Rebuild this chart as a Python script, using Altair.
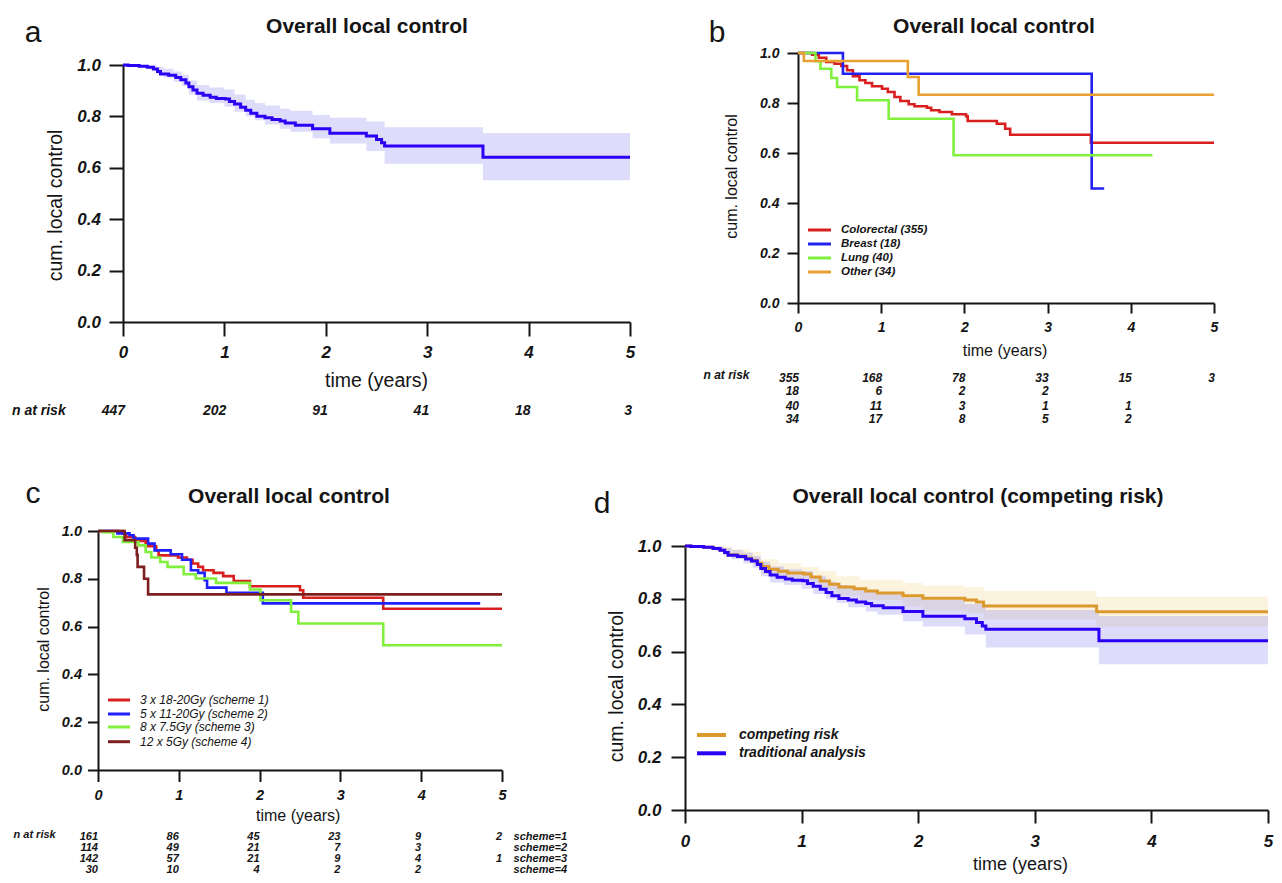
import altair as alt
import pandas as pd

FONT = "Liberation Sans"
INK = "#141414"

# ---------------- data ----------------
TICKS_X = [0, 1, 2, 3, 4, 5]
TICKS_Y = [0.0, 0.2, 0.4, 0.6, 0.8, 1.0]
RISK_T = [0, 1, 2, 3, 4, 5]

# traditional Kaplan-Meier (panel a, and blue curve of panel d)
km_t = [0, 0.05, 0.16, 0.24, 0.30, 0.34, 0.37, 0.45, 0.52, 0.57, 0.62, 0.65, 0.69, 0.73,
        0.79, 0.86, 0.92, 1.01, 1.05, 1.10, 1.16, 1.21, 1.26, 1.32, 1.40, 1.47, 1.55,
        1.60, 1.70, 1.87, 2.04, 2.40, 2.50, 2.55, 2.58, 3.55, 5.0]
km_v = [1.0, 0.998, 0.995, 0.991, 0.984, 0.975, 0.965, 0.960, 0.951, 0.943, 0.930, 0.915,
        0.903, 0.890, 0.882, 0.875, 0.870, 0.868, 0.858, 0.848, 0.836, 0.824, 0.812, 0.801,
        0.795, 0.788, 0.782, 0.774, 0.766, 0.752, 0.734, 0.724, 0.710, 0.697, 0.685, 0.641, 0.641]
km_ci_t = [0, 0.10, 0.25, 0.33, 0.40, 0.50, 0.58, 0.65, 0.73, 0.85, 1.00, 1.10, 1.21, 1.30,
           1.40, 1.55, 1.65, 1.87, 2.04, 2.40, 2.58, 3.55, 5.0]
km_ci_hi = [1.0, 1.0, 0.999, 0.992, 0.985, 0.975, 0.962, 0.940, 0.922, 0.912, 0.905, 0.885,
            0.865, 0.852, 0.842, 0.830, 0.822, 0.805, 0.795, 0.780, 0.758, 0.735, 0.735]
km_ci_lo = [1.0, 0.993, 0.983, 0.965, 0.950, 0.935, 0.918, 0.885, 0.862, 0.852, 0.838, 0.818,
            0.800, 0.785, 0.768, 0.752, 0.740, 0.715, 0.695, 0.665, 0.616, 0.552, 0.552]

# competing risk (panel d, orange)
cr_t = [0, 0.05, 0.16, 0.24, 0.30, 0.34, 0.37, 0.45, 0.52, 0.57, 0.62, 0.66, 0.72, 0.80,
        0.88, 1.02, 1.08, 1.16, 1.24, 1.32, 1.45, 1.55, 1.65, 1.87, 2.04, 2.40, 2.50, 2.56, 3.53, 5.0]
cr_v = [1.0, 0.998, 0.995, 0.991, 0.984, 0.976, 0.967, 0.962, 0.954, 0.946, 0.935, 0.922,
        0.912, 0.904, 0.898, 0.894, 0.883, 0.867, 0.855, 0.845, 0.838, 0.830, 0.822, 0.812,
        0.802, 0.795, 0.788, 0.773, 0.751, 0.751]
cr_ci_t = [0, 0.25, 0.40, 0.55, 0.65, 0.80, 1.00, 1.15, 1.30, 1.50, 1.87, 2.04, 2.40, 2.56, 3.53, 5.0]
cr_ci_hi = [1.0, 0.999, 0.988, 0.978, 0.950, 0.935, 0.920, 0.905, 0.885, 0.872, 0.860, 0.850,
            0.845, 0.830, 0.808, 0.808]
cr_ci_lo = [1.0, 0.984, 0.952, 0.932, 0.895, 0.875, 0.862, 0.835, 0.812, 0.795, 0.770, 0.755,
            0.745, 0.722, 0.695, 0.695]

# panel b: by primary tumour
colo_t = [0, 0.17, 0.25, 0.34, 0.44, 0.52, 0.59, 0.66, 0.74, 0.81, 0.89, 1.01, 1.08, 1.16,
          1.23, 1.33, 1.40, 1.55, 1.60, 1.70, 1.85, 2.02, 2.04, 2.39, 2.49, 2.55, 3.52, 5.0]
colo_v = [1.0, 0.993, 0.981, 0.964, 0.957, 0.948, 0.931, 0.907, 0.891, 0.880, 0.867, 0.857,
          0.844, 0.824, 0.808, 0.795, 0.787, 0.781, 0.771, 0.764, 0.755, 0.747, 0.728, 0.717,
          0.697, 0.673, 0.641, 0.641]
breast_t = [0, 0.54, 3.53, 3.68]
breast_v = [1.0, 0.917, 0.458, 0.458]
lung_t = [0, 0.21, 0.27, 0.40, 0.47, 0.71, 1.09, 1.87, 4.26]
lung_v = [1.0, 0.967, 0.937, 0.900, 0.864, 0.811, 0.737, 0.591, 0.591]
other_t = [0, 0.07, 1.32, 1.45, 5.0]
other_v = [1.0, 0.968, 0.904, 0.833, 0.833]

# panel c: by fractionation scheme
s1_t = [0, 0.31, 0.35, 0.46, 0.59, 0.72, 0.75, 0.99, 1.10, 1.17, 1.24, 1.30, 1.43, 1.55,
        1.68, 1.88, 2.50, 2.54, 3.53, 5.0]
s1_v = [1.0, 0.989, 0.975, 0.958, 0.936, 0.919, 0.898, 0.889, 0.880, 0.864, 0.850, 0.836,
        0.825, 0.811, 0.791, 0.769, 0.752, 0.721, 0.675, 0.675]
s2_t = [0, 0.24, 0.39, 0.44, 0.62, 0.70, 0.90, 1.04, 1.15, 1.24, 1.32, 1.35, 1.59, 2.04, 4.73]
s2_v = [1.0, 0.990, 0.982, 0.968, 0.947, 0.919, 0.903, 0.880, 0.836, 0.825, 0.794, 0.763,
        0.741, 0.697, 0.697]
s3_t = [0, 0.06, 0.19, 0.31, 0.50, 0.59, 0.66, 0.77, 0.86, 1.06, 1.21, 1.46, 1.88, 2.01,
        2.39, 2.48, 3.53, 5.0]
s3_v = [1.0, 0.995, 0.975, 0.954, 0.940, 0.912, 0.889, 0.870, 0.850, 0.819, 0.801, 0.783,
        0.755, 0.710, 0.662, 0.613, 0.522, 0.522]
s4_t = [0, 0.33, 0.46, 0.48, 0.49, 0.57, 0.62, 5.0]
s4_v = [1.0, 0.962, 0.930, 0.900, 0.850, 0.800, 0.735, 0.735]

# numbers at risk
risk_a = [447, 202, 91, 41, 18, 3]
risk_b = [[355, 168, 78, 33, 15, 3], [18, 6, 2, 2], [40, 11, 3, 1, 1], [34, 17, 8, 5, 2]]
risk_c = [[161, 86, 45, 23, 9, 2], [114, 49, 21, 7, 3], [142, 57, 21, 9, 4, 1], [30, 10, 4, 2, 2]]
scheme_tags = ["scheme=1", "scheme=2", "scheme=3", "scheme=4"]

legend_b = ["Colorectal (355)", "Breast (18)", "Lung (40)", "Other (34)"]
legend_c = ["3 x 18-20Gy (scheme 1)", "5 x 11-20Gy (scheme 2)", "8 x 7.5Gy (scheme 3)", "12 x 5Gy (scheme 4)"]
legend_d = ["competing risk", "traditional analysis"]

BLUE = "#2b00f5"
BLUE_B = "#2222f0"
RED = "#d81e1e"
GREEN = "#80f03c"
ORANGE_B = "#e8a030"
ORANGE_D = "#dc9a2e"
BROWN = "#7b1f1f"
BAND_BLUE = "#dddcfb"
BAND_BLUE_ALPHA = "#8e8af2"
BAND_ORANGE = "#fbf3de"

# page origin of each panel's view (layout grid)
ORIG = {"a": (98, 53), "b": (685, 53), "c": (98, 322), "d": (685, 322)}


class Panel:
    def __init__(self, key, width, height, xr, yr, yoff, lab_fs, xtick, xpad, ytick, ypad,
                 tfs, ytitle_xy, xtitle_xy, xtitle_fs=None):
        self.key = key
        self.ox, self.oy = ORIG[key]
        self.width, self.height = width, height
        self.layers = []
        self.xs = alt.Scale(domain=[0, 5], range=xr, nice=False, zero=False)
        self.ys = alt.Scale(domain=[0, 1], range=yr, nice=False, zero=False)
        common = dict(grid=False, domainColor=INK, domainWidth=2, tickColor=INK, tickWidth=2,
                      labelFont=FONT, labelFontSize=lab_fs, labelFontStyle="italic",
                      labelFontWeight="bold", labelColor=INK, labelOverlap=False,
                      titleFont=FONT, titleFontWeight="normal",
                      titleColor=INK, titleAlign="center", titleBaseline="middle")
        self.xa = alt.Axis(values=TICKS_X, format="d", title="time (years)", tickSize=xtick,
                           labelPadding=xpad, labelFlush=False, titleAngle=0,
                           titleFontSize=xtitle_fs or tfs,
                           titleX=xtitle_xy[0] - self.ox,
                           titleY=xtitle_xy[1] - (self.oy + height), **common)
        axis_x = self.ox - yoff
        self.ya = alt.Axis(values=TICKS_Y, format=".1f", title="cum. local control",
                           tickSize=ytick, labelPadding=ypad, offset=yoff, titleAngle=270,
                           titleFontSize=tfs,
                           titleX=ytitle_xy[0] - axis_x, titleY=ytitle_xy[1] - self.oy, **common)

    def X(self):
        return alt.X("t:Q", scale=self.xs, axis=self.xa)

    def Y(self, f):
        return alt.Y(f, scale=self.ys, axis=self.ya)

    def band(self, t, hi, lo, color, opacity=1.0):
        df = pd.DataFrame({"t": t, "hi": hi, "lo": lo})
        self.layers.append(alt.Chart(df).mark_area(interpolate="step-after", color=color,
                                                   opacity=opacity)
                           .encode(x=self.X(), y=self.Y("hi:Q"), y2=alt.Y2("lo:Q")))

    def line(self, t, v, color, w):
        df = pd.DataFrame({"t": t, "v": v})
        self.layers.append(alt.Chart(df).mark_line(interpolate="step-after", color=color,
                                                   strokeWidth=w)
                           .encode(x=self.X(), y=self.Y("v:Q")))

    def text(self, s, px, py, fs, weight="normal", style="normal", align="center",
             baseline="alphabetic"):
        df = pd.DataFrame({"s": [s]})
        self.layers.append(alt.Chart(df).mark_text(font=FONT, fontSize=fs, fontWeight=weight,
                                                   fontStyle=style, align=align,
                                                   baseline=baseline, color=INK)
                           .encode(text="s:N", x=alt.value(px - self.ox),
                                   y=alt.value(py - self.oy)))

    def risk(self, counts, py, fs, dx):
        df = pd.DataFrame({"t": RISK_T[:len(counts)], "n": [str(c) for c in counts]})
        self.layers.append(alt.Chart(df).mark_text(font=FONT, fontSize=fs, fontWeight="bold",
                                                   fontStyle="italic", align="right",
                                                   baseline="middle", dx=dx, color=INK)
                           .encode(x=self.X(), y=alt.value(py - self.oy), text="n:N"))

    def legend(self, label, color, x1, x2, py, w, tx, fs, weight, style):
        df = pd.DataFrame({"s": [label]})
        self.layers.append(alt.Chart(df).mark_rule(color=color, strokeWidth=w)
                           .encode(x=alt.value(x1 - self.ox), x2=alt.value(x2 - self.ox),
                                   y=alt.value(py - self.oy)))
        self.text(label, tx, py, fs, weight, style, align="left", baseline="middle")

    def chart(self):
        return alt.layer(*self.layers).properties(width=self.width, height=self.height)


# ---------------- panel a ----------------
pa = Panel("a", 587, 269, [25, 532], [269, 12], -25, 17, 14, 8, 14, 8.5, 19.5,
           (55, 205), (376, 380))
pa.band(km_ci_t, km_ci_hi, km_ci_lo, BAND_BLUE)
pa.line(km_t, km_v, BLUE, 3)
pa.text("a", 33, 41.7, 30)
pa.text("Overall local control", 367, 33.3, 21, weight="bold")
pa.text("n at risk", 12, 410.7, 14, weight="bold", style="italic", align="left", baseline="middle")
pa.risk(risk_a, 410.7, 14, 2)

# ---------------- panel b ----------------
pb = Panel("b", 587, 250, [113, 529], [250, 0], -113, 14, 10, 7.5, 11, 8, 16,
           (731, 176), (1004.5, 350.7))
b_colors = [RED, BLUE_B, GREEN, ORANGE_B]
for (t, v), col in zip([(colo_t, colo_v), (breast_t, breast_v), (lung_t, lung_v),
                        (other_t, other_v)], b_colors):
    pb.line(t, v, col, 2.6)
pb.text("b", 717, 42, 30)
pb.text("Overall local control", 994, 33.3, 21, weight="bold")
for lab, col, yy in zip(legend_b, b_colors, [230, 244, 258, 272]):
    pb.legend(lab, col, 808, 831, yy, 3, 841, 11.5, "bold", "italic")
pb.text("n at risk", 703.5, 375, 12, weight="bold", style="italic", align="left", baseline="middle")
for counts, yy in zip(risk_b, [378, 391.3, 405.7, 419.3]):
    pb.risk(counts, yy, 12, 1)

# ---------------- panel c ----------------
pc = Panel("c", 587, 448, [0, 404], [448, 209], 0, 14.5, 11.5, 7, 10.5, 6, 16,
           (43.75, 649), (297.7, 815))
c_colors = [RED, "#1f1fff", GREEN, BROWN]
for (t, v), col in zip([(s1_t, s1_v), (s2_t, s2_v), (s3_t, s3_v), (s4_t, s4_v)], c_colors):
    pc.line(t, v, col, 2.6)
pc.text("c", 33, 503, 30)
pc.text("Overall local control", 289, 503.3, 21, weight="bold")
for lab, col, yy in zip(legend_c, c_colors, [700, 714, 727, 741.7]):
    pc.legend(lab, col, 108, 130, yy, 3, 140, 12, "normal", "italic")
pc.text("n at risk", 13.5, 835, 11, weight="bold", style="italic", align="left", baseline="middle")
for counts, tag, yy in zip(risk_c, scheme_tags, [837, 848, 859, 869.5]):
    pc.risk(counts, yy, 11, 0)
    pc.text(tag, 513.6, yy, 11, weight="bold", style="italic", align="left", baseline="middle")

# ---------------- panel d ----------------
pd_ = Panel("d", 589, 488, [0, 583], [488, 224], 0, 17, 13, 10, 14, 10, 19.5,
            (616, 686), (1020, 864), xtitle_fs=18)
pd_.band(cr_ci_t, cr_ci_hi, cr_ci_lo, BAND_ORANGE)
pd_.band(km_ci_t, km_ci_hi, km_ci_lo, BAND_BLUE_ALPHA, 0.3)
pd_.line(cr_t, cr_v, ORANGE_D, 3)
pd_.line(km_t, km_v, BLUE, 3)
pd_.text("d", 602, 513, 30)
pd_.text("Overall local control (competing risk)", 978, 503.3, 21, weight="bold")
for lab, col, yy in zip(legend_d, [ORANGE_D, BLUE], [735, 753.3]):
    pd_.legend(lab, col, 697, 726, yy, 4, 739, 14, "bold", "italic")

# fixed canvas: the grid origin sits at page (98, 53); svg spans page 8..1274 x 8..875
PAD_L, PAD_T = 98 - 8, 53 - 8
SVG_W, SVG_H = 1266, 867
chart = alt.concat(pa.chart(), pb.chart(), pc.chart(), pd_.chart(), columns=2, spacing=0,
                   bounds="flush", align="each").properties(
    autosize=alt.AutoSizeParams(type="none"),
    padding={"left": PAD_L, "top": PAD_T, "right": SVG_W - PAD_L, "bottom": SVG_H - PAD_T}
).configure_view(strokeWidth=0)

chart.save("out.html", embed_options={"renderer": "svg", "actions": False})
